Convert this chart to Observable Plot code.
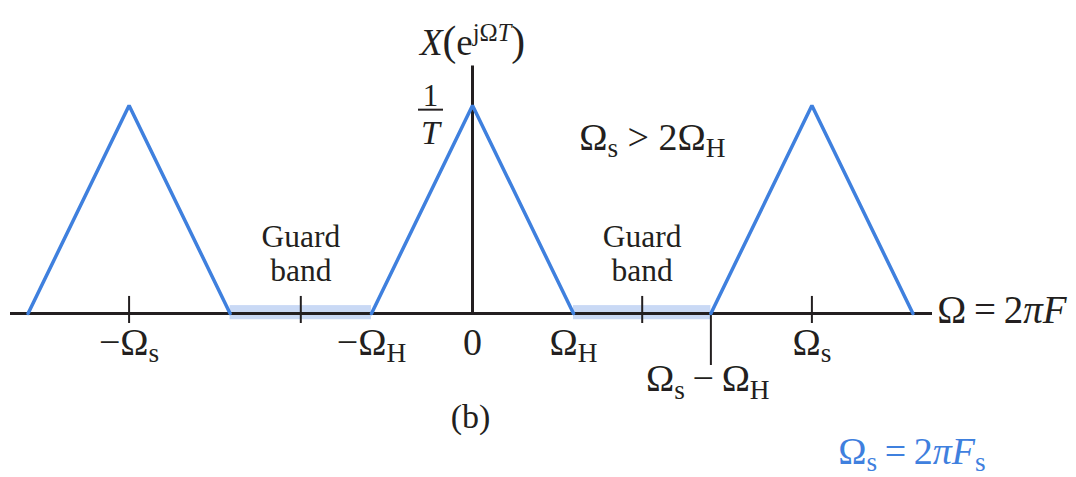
<!DOCTYPE html>
<html>
<head>
<meta charset="utf-8">
<script src="https://cdn.jsdelivr.net/npm/d3@7"></script>
<script src="https://cdn.jsdelivr.net/npm/@observablehq/plot@0.6"></script>
<style>
  html, body { margin: 0; padding: 0; background: #fff; }
  svg { display: block; }
</style>
</head>
<body>
<script>
// Frequency axis in units of Ω_H; magnitude axis in units of 1/T.
const omegaH = 1;
const omegaS = 3.38;

// Spectral replicas centred at −Ωs, 0 and Ωs (vertices of each triangle).
const replicaIds = ["−Ωs", "0", "Ωs"];
const replicaX = [
  [-4.4, -3.4, -2.4],
  [-1, 0, 1],
  [2.36, 3.36, 4.36]
];
const replicaY = [0, 1, 0];

// Guard bands between neighbouring replicas: [start, end].
const guardStart = [-2.4, 1];
const guardEnd = [-1, 2.36];

// Short tick marks on the frequency axis.
const shortTicks = [-3.4, -1.7, 1.68, 3.36];
// Long tick at Ωs − ΩH.
const longTick = [2.36];

// Tick labels below the axis.
const tickLabelX = [-3.4, -1, 0, 1, 3.36];
const tickLabelText = [
  [["−Ω", ""], ["s", "sub"]],
  [["−Ω", ""], ["H", "sub"]],
  [["0", ""]],
  [["Ω", ""], ["H", "sub"]],
  [["Ω", ""], ["s", "sub"]]
];

// Rich text pieces: [text, style]
const diffLabel = [["Ω", ""], ["s", "sub"], ["\u2009−\u2009Ω", ""], ["H", "sub"]];
const axisName = [["Ω\u2009=\u20092", ""], ["π", "i"], ["F", "i"]];
const spectrumName = [["X", "i"], ["(", "big"], ["e", ""], ["jΩ", "sup"], ["T", "supi"], [")", "big"]];
const heightTop = [["1", ""]];
const heightBottom = [["T", "i"]];
const conditionLabel = [["Ω", ""], ["s", "sub"], [" > 2Ω", ""], ["H", "sub"]];
const panelLabel = [["(b)", ""]];
const samplingLabel = [["Ω", ""], ["s", "sub"], ["\u2009=\u20092", ""], ["πF", "i"], ["s", "sub"]];
const guardLines = ["Guard", "band"];

const blue = "#3f80de";
const bandFill = "#c9d9f5";
const ink = "#231f20";
const serif = "Liberation Serif, Times New Roman, serif";

// Lookup from plain text to its styled pieces.
const rich = new Map();
const plain = (segs) => { const s = segs.map((d) => d[0]).join(""); rich.set(s, segs); return s; };

const replicas = replicaIds.flatMap((id, i) =>
  replicaX[i].map((x, j) => ({id, x, y: replicaY[j]}))
);
const guards = guardStart.map((s, i) => ({x1: s, x2: guardEnd[i], mid: shortTicks[i + 1]}));
const tickLabels = tickLabelX.map((x, i) => ({x, text: plain(tickLabelText[i])}));

const textAt = (segs, x, y, opts = {}) =>
  Plot.text([plain(segs)], {x: () => x, y: () => y, text: (d) => d, fontFamily: serif, fill: ink, ...opts});

const chart = Plot.plot({
  width: 1076,
  height: 477,
  marginLeft: 10,
  marginRight: 144,
  marginTop: 0,
  marginBottom: 0,
  x: {domain: [-4.574, 4.554], axis: null},
  y: {domain: [0, 1], range: [313, 105], axis: null},
  style: {background: "#fff", fontFamily: serif},
  marks: [
    Plot.rect(guards, {x1: "x1", x2: "x2", y1: -0.03, y2: 0.038, fill: bandFill}),
    Plot.ruleY([0], {stroke: ink, strokeWidth: 3}),
    Plot.ruleX([0], {y1: 0, y2: 1.19, stroke: ink, strokeWidth: 3}),
    Plot.ruleX(shortTicks, {y1: -0.048, y2: 0.082, stroke: ink, strokeWidth: 2}),
    Plot.ruleX(longTick, {y1: -0.25, y2: 0, stroke: ink, strokeWidth: 2}),
    Plot.line(replicas, {x: "x", y: "y", z: "id", stroke: blue, strokeWidth: 3.5, strokeLinejoin: "miter"}),
    Plot.text(tickLabels, {x: "x", y: -0.14, text: "text", fontFamily: serif, fontSize: 38, fill: ink}),
    textAt(diffLabel, 2.33, -0.315, {fontSize: 38}),
    textAt(axisName, 4.6, 0.012, {fontSize: 39, textAnchor: "start"}),
    textAt(spectrumName, 0, 1.30, {fontSize: 37}),
    textAt(heightTop, -0.416, 1.045, {fontSize: 31}),
    Plot.ruleY([0.98], {x1: -0.535, x2: -0.287, stroke: ink, strokeWidth: 2}),
    textAt(heightBottom, -0.416, 0.865, {fontSize: 34}),
    textAt(conditionLabel, 1.78, 0.846, {fontSize: 38}),
    Plot.text(guards, {x: "mid", y: 0.367, text: () => guardLines[0], fontFamily: serif, fontSize: 31.5, fill: ink}),
    Plot.text(guards, {x: "mid", y: 0.207, text: () => guardLines[1], fontFamily: serif, fontSize: 31.5, fill: ink}),
    textAt(panelLabel, -0.02, -0.5, {fontSize: 34}),
    textAt(samplingLabel, 4.35, -0.663, {fontSize: 38, fill: blue})
  ]
});

document.body.appendChild(chart);

// Rebuild labels with sub/superscripts and italics as tspans.
d3.select(chart).selectAll("text").each(function () {
  const segs = rich.get(this.textContent);
  if (!segs || segs.length < 2 && segs[0][1] === "") return;
  const fs = parseFloat(getComputedStyle(this).fontSize);
  this.textContent = "";
  let offset = 0;
  for (const [t, kind] of segs) {
    const ts = d3.select(this).append("tspan").text(t);
    let target = 0, size = 1;
    if (kind === "sub") { target = 0.2 * fs; size = 0.72; }
    if (kind === "sup" || kind === "supi") { target = -0.38 * fs; size = 0.66; }
    if (kind === "big") { size = 1.12; }
    if (kind === "i" || kind === "supi") ts.attr("font-style", "italic");
    if (target !== offset) ts.attr("dy", target - offset);
    offset = target;
    if (size !== 1) ts.attr("font-size", size * fs);
  }
});
</script>
</body>
</html>
